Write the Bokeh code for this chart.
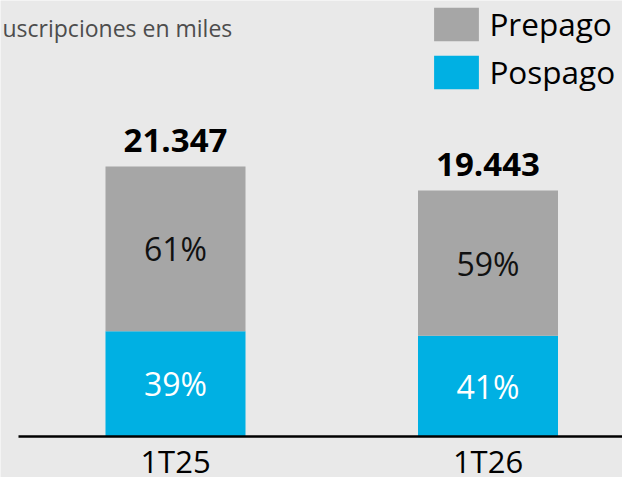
from bokeh.plotting import figure
from bokeh.models import ColumnDataSource, Range1d, Label, Legend, LegendItem
from bokeh.core.properties import value
from bokeh.embed import file_html
from bokeh.resources import INLINE

# ---- data ----
categories = ["1T25", "1T26"]
totals = [21347, 19443]
total_labels = ["21.347", "19.443"]
pospago_pct = [39, 41]
prepago_pct = [61, 59]
series = ["Prepago", "Pospago"]
title_text = "uscripciones en miles"

# ---- styling / layout ----
BG = "#e9e9e9"
GRAY = "#a6a6a6"
BLUE = "#00b0e3"
FONT = "Open Sans"
W, H = 622, 477
X_START, X_END = -0.56, 1.4304
Y_START, Y_END = -3242, 34472
BASE_X0 = X_START + 18 / 312.5

xs = list(range(len(categories)))
pospago = [t * p / 100 for t, p in zip(totals, pospago_pct)]

src = ColumnDataSource(dict(
    x=xs, cat=categories, total=totals, total_label=total_labels,
    pos=pospago,
    pos_mid=[b / 2 for b in pospago],
    pre_mid=[b + (t - b) / 2 for t, b in zip(totals, pospago)],
    pos_lbl=[f"{v}%" for v in pospago_pct],
    pre_lbl=[f"{v}%" for v in prepago_pct],
    zero=[0] * len(xs),
))

p = figure(width=W, height=H, output_backend="svg", toolbar_location=None,
           x_range=Range1d(X_START, X_END), y_range=Range1d(Y_START, Y_END),
           min_border=0,
           background_fill_color=BG, border_fill_color=BG, outline_line_color=None)
p.xaxis.visible = False
p.yaxis.visible = False
p.xgrid.visible = False
p.ygrid.visible = False

BW = 0.448
r_pos = p.vbar(x="x", bottom=0, top="pos", width=BW, source=src,
               fill_color=BLUE, line_color=None)
r_pre = p.vbar(x="x", bottom="pos", top="total", width=BW, source=src,
               fill_color=GRAY, line_color=None)

# baseline
p.segment(x0=[BASE_X0], y0=[0], x1=[X_END], y1=[0], line_color="black",
          line_width=2.3, line_cap="butt")

p.text(x="x", y="total", text="total_label", source=src, text_align="center",
       text_baseline="middle", y_offset=-26, text_font=value(FONT),
       text_font_style="bold", text_font_size="33px", text_color="black")
p.text(x="x", y="pre_mid", text="pre_lbl", source=src, text_align="center",
       text_baseline="middle", text_font=value(FONT), text_font_size="32px",
       text_color="#111111")
p.text(x="x", y="pos_mid", text="pos_lbl", source=src, text_align="center",
       text_baseline="middle", text_font=value(FONT), text_font_size="32px",
       text_color="white")
p.text(x="x", y="zero", text="cat", source=src, text_align="center",
       text_baseline="middle", y_offset=25, text_font=value(FONT),
       text_font_size="31px", text_color="black")

p.add_layout(Label(x=2, y=H - 27, x_units="screen", y_units="screen", text=title_text,
                   text_font=FONT, text_font_size="23px", text_color="#4d4d4d",
                   text_baseline="alphabetic"))

legend = Legend(items=[LegendItem(label=series[0], renderers=[r_pre]),
                       LegendItem(label=series[1], renderers=[r_pos])],
                location=(428.4, 383.75), orientation="vertical",
                glyph_width=56, glyph_height=42, label_height=42, spacing=5,
                label_standoff=5, padding=0, margin=0,
                label_text_font=FONT, label_text_font_size="31.5px",
                label_text_color="black",
                background_fill_alpha=0, border_line_alpha=0)
p.add_layout(legend)

open("out.html", "w").write(file_html(p, INLINE))
